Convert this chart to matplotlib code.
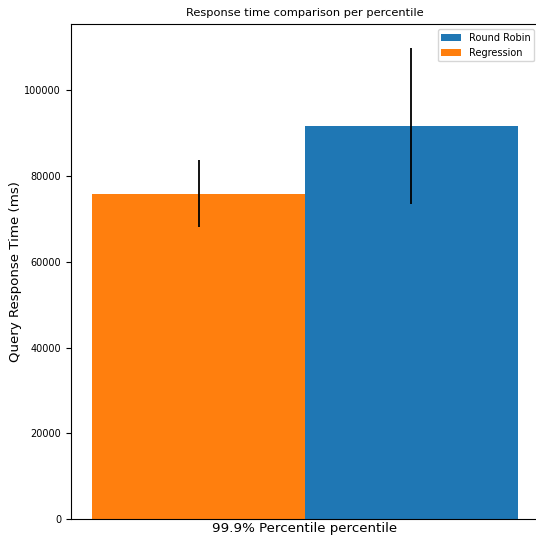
import matplotlib
matplotlib.use("Agg")
import matplotlib.pyplot as plt
import numpy as np

# data
percentile = "99.9% Percentile"
series = ["Round Robin", "Regression"]
means = [91800, 75900]
errors = [18200, 7800]
colors = ["#1f77b4", "#ff7f0e"]
offsets = [0.5, -0.5]

fig = plt.figure(figsize=(5.36, 5.41), dpi=100)
# right edge of the axes sits just past the image edge, as in the reference
ax = fig.add_axes([0.132, 0.0407, 0.874, 0.915])

width = 1.0
for name, m, e, c, off in zip(series, means, errors, colors, offsets):
    ax.bar(off * width, m, width, yerr=e, color=c, ecolor="black",
           error_kw=dict(lw=1.3), label=name)

ax.set_xticks([0])
ax.set_xticklabels([percentile + " percentile"], fontsize=9.6)
ax.tick_params(axis="x", length=0, pad=2)
ax.tick_params(axis="y", labelsize=7)
ax.set_ylabel("Query Response Time (ms)", fontsize=9.6, labelpad=2)
ax.set_title("Response time comparison per percentile", fontsize=8.2)
ax.legend(loc="upper right", fontsize=7)

fig.savefig("out.png", dpi=100)
